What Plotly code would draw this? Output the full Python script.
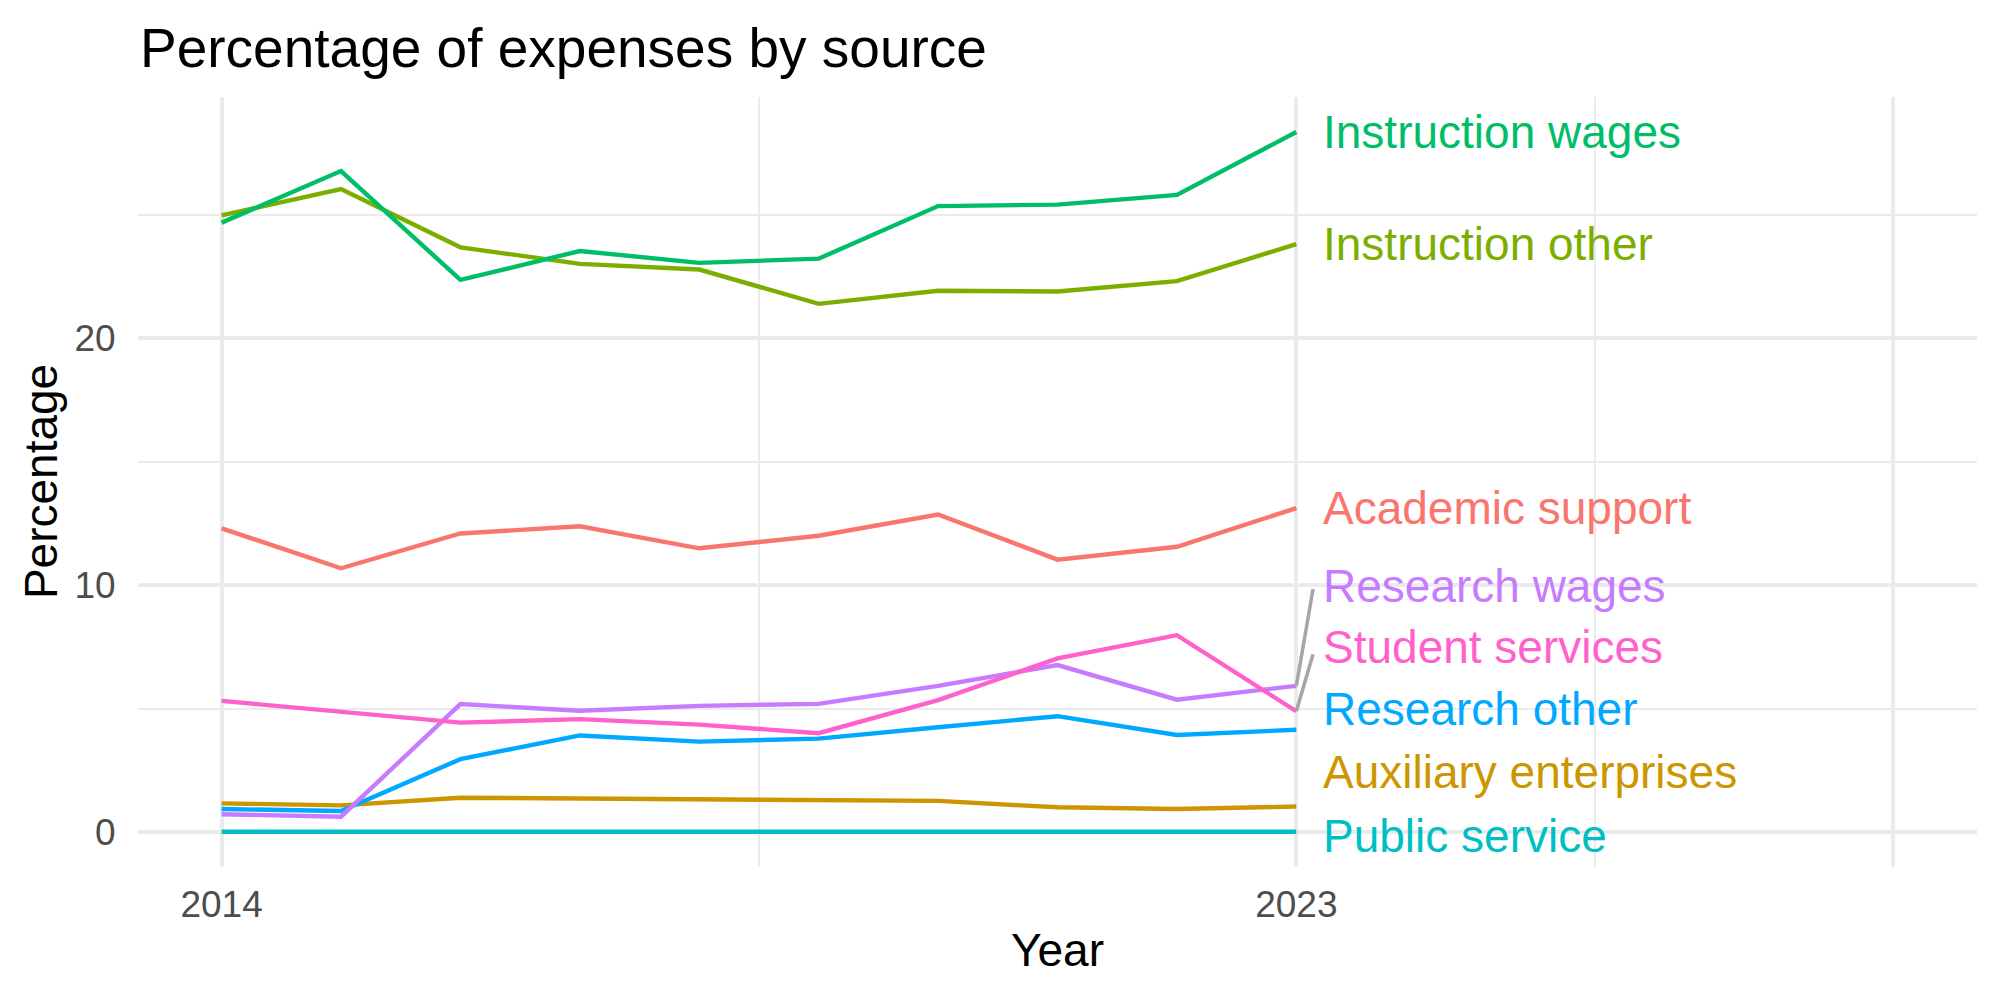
import plotly.graph_objects as go

years = [2014, 2015, 2016, 2017, 2018, 2019, 2020, 2021, 2022, 2023]

academic_support = [12.30, 10.68, 12.09, 12.38, 11.49, 12.00, 12.86, 11.03, 11.55, 13.12]
auxiliary_enterprises = [1.16, 1.08, 1.39, 1.36, 1.34, 1.30, 1.26, 1.00, 0.93, 1.03]
instruction_other = [24.97, 26.04, 23.68, 23.01, 22.78, 21.39, 21.92, 21.89, 22.31, 23.81]
instruction_wages = [24.68, 26.77, 22.36, 23.53, 23.05, 23.22, 25.35, 25.41, 25.80, 28.35]
public_service = [0.01, 0.01, 0.01, 0.02, 0.02, 0.01, 0.01, 0.01, 0.01, 0.01]
research_other = [0.93, 0.85, 2.95, 3.91, 3.66, 3.78, 4.24, 4.69, 3.93, 4.14]
research_wages = [0.72, 0.62, 5.18, 4.91, 5.11, 5.19, 5.92, 6.76, 5.36, 5.92]
student_services = [5.31, 4.88, 4.43, 4.57, 4.35, 4.00, 5.34, 7.03, 7.97, 4.89]

series_names = ["Academic support", "Auxiliary enterprises", "Instruction other",
                "Instruction wages", "Public service", "Research other",
                "Research wages", "Student services"]
series_values = [academic_support, auxiliary_enterprises, instruction_other,
                 instruction_wages, public_service, research_other,
                 research_wages, student_services]
colors = ["#F8766D", "#CD9600", "#7CAE00", "#00BE67", "#00BFC4", "#00A9FF",
          "#C77CFF", "#FF61CC"]

# repelled label placement (y in data units) for the end labels
label_y = {"Academic support": 13.13, "Auxiliary enterprises": 2.43,
           "Instruction other": 23.83, "Instruction wages": 28.37,
           "Public service": -0.15, "Research other": 4.97,
           "Research wages": 9.98, "Student services": 7.50}
label_x = 2023.21
# labels that needed a leader segment
segment_end = {"Research wages": (2023.14, 9.84), "Student services": (2023.14, 7.2)}

FONT = "Liberation Sans, Arial, Helvetica, sans-serif"

fig = go.Figure()
for name, vals, col in zip(series_names, series_values, colors):
    fig.add_trace(go.Scatter(x=years, y=vals, mode="lines", name=name,
                             line=dict(color=col, width=4.4), showlegend=False))

# leader segments
for name, vals in zip(series_names, series_values):
    if name in segment_end:
        ex, ey = segment_end[name]
        fig.add_trace(go.Scatter(x=[years[-1], ex], y=[vals[-1], ey], mode="lines",
                                 line=dict(color="#A6A6A6", width=3.5),
                                 showlegend=False, hoverinfo="skip"))

annotations = []
for name, col in zip(series_names, colors):
    annotations.append(dict(x=label_x, y=label_y[name], xref="x", yref="y",
                            text=name, showarrow=False, xanchor="left",
                            yanchor="middle",
                            font=dict(family=FONT, size=46, color=col)))

annotations.append(dict(x=0.5, y=-0.1076, xref="paper", yref="paper", text="Year",
                        showarrow=False, xanchor="center", yanchor="middle",
                        font=dict(family=FONT, size=46, color="black")))
annotations.append(dict(x=-0.0527, y=0.5, xref="paper", yref="paper",
                        text="Percentage", textangle=-90, showarrow=False,
                        xanchor="center", yanchor="middle",
                        font=dict(family=FONT, size=46, color="black")))

fig.update_layout(
    width=2000, height=1000,
    margin=dict(l=138, r=23, t=97, b=133),
    paper_bgcolor="white", plot_bgcolor="white",
    title=dict(text="Percentage of expenses by source", x=0.07, xref="container",
               xanchor="left", y=0.952, yref="container", yanchor="middle",
               font=dict(family=FONT, size=55, color="black")),
    annotations=annotations,
    xaxis=dict(range=[2013.3, 2028.7], tickvals=[2014, 2023, 2028],
               ticktext=["2014", "2023", ""], showgrid=True, gridcolor="#EBEBEB",
               gridwidth=4.4, zeroline=False, showline=False,
               ticks="outside", ticklen=5, tickcolor="rgba(0,0,0,0)",
               tickfont=dict(family=FONT, size=37, color="#4D4D4D"),
               minor=dict(tickvals=[2018.5, 2025.5], showgrid=True,
                          gridcolor="#EBEBEB", gridwidth=2.2, ticks="")),
    yaxis=dict(range=[-1.4175, 29.7675], tickvals=[0, 10, 20],
               showgrid=True, gridcolor="#EBEBEB", gridwidth=4.4,
               zeroline=False, showline=False,
               ticks="outside", ticklen=14, tickcolor="rgba(0,0,0,0)",
               tickfont=dict(family=FONT, size=37, color="#4D4D4D"),
               minor=dict(tickvals=[5, 15, 25], showgrid=True,
                          gridcolor="#EBEBEB", gridwidth=2.2, ticks="")),
)

fig.write_html("out.html")
